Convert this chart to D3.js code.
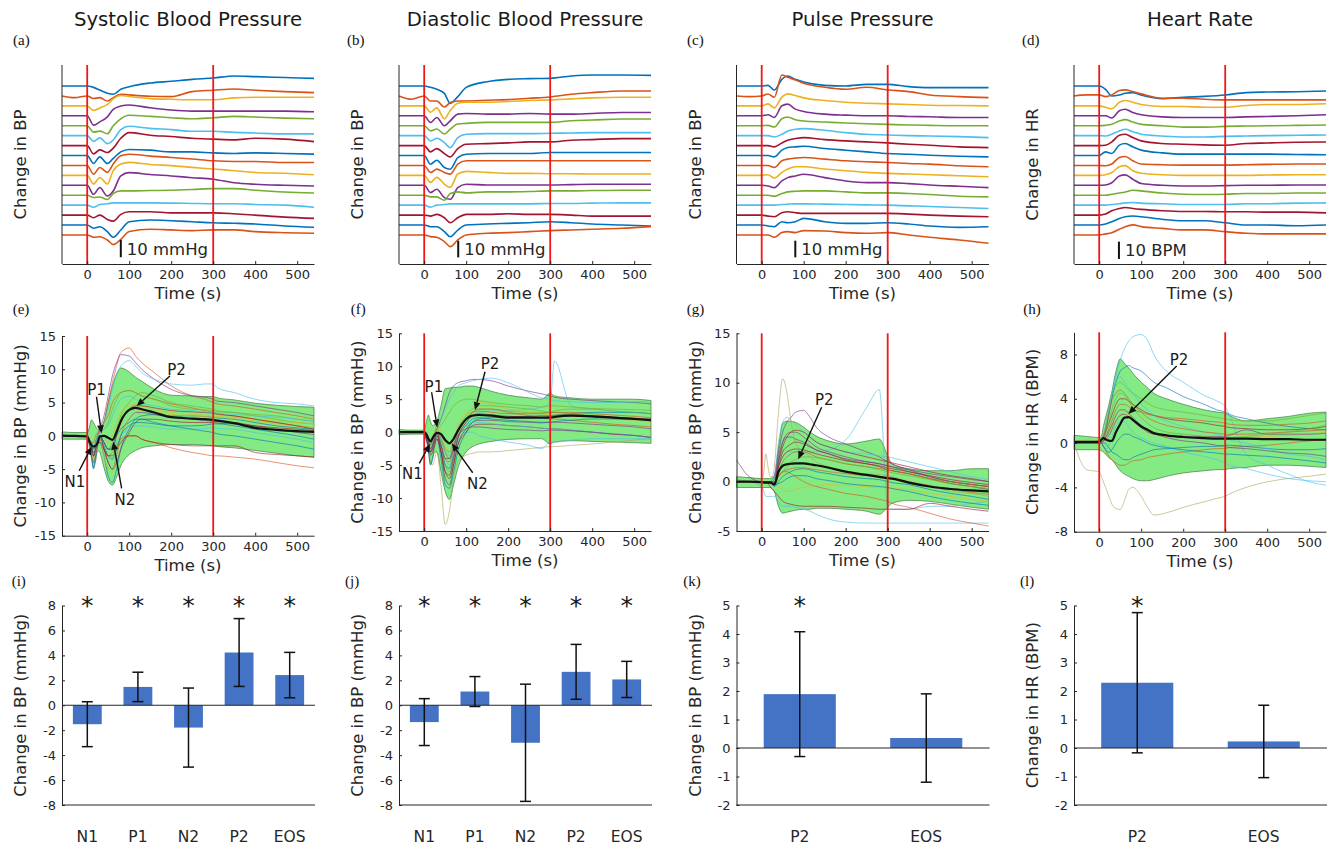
<!DOCTYPE html>
<html>
<head>
<meta charset="utf-8">
<script src="https://cdn.jsdelivr.net/npm/d3@7"></script>
<style>
  html, body { margin: 0; padding: 0; background: #fff; }
  svg { display: block; }
</style>
</head>
<body>
<svg id="fig" width="1329" height="850"></svg>
<script>
// ---------------------------------------------------------------
// Data
// ---------------------------------------------------------------

// Stimulus window (s) and time-axis ticks
const STIM_EDGES = [0, 300];
const TIME_TICKS = [0, 100, 200, 300, 400, 500];

// Row 1: per-subject averaged responses, sampled at these times (s)
const T_TOP = [-60, -30, 0, 15, 30, 48, 62, 80, 100, 150, 200, 250, 300, 350, 400, 470, 540];

const sbpTraces = [
  [0,0,0,-0.8,-2.3,-4.2,-4.8,-1.9,-0.4,1.7,2.7,3.8,4.6,5.8,5.4,4.9,4.4],
  [0,-1.0,0,-1.5,-1.0,-2.9,-1.0,1.0,0.6,-0.2,-0.4,2.5,3.3,4.0,3.3,2.5,1.9],
  [0,0,0,-2.7,-1.2,0.8,4.0,6.0,5.4,4.2,3.8,3.5,3.5,4.6,5.0,5.0,5.0],
  [0,0,0,-5.4,-3.5,-0.6,3.7,5.6,6.2,4.6,3.3,2.7,2.7,2.7,2.7,2.7,2.3],
  [0,0,0,-3.7,-3.1,-4.6,0,4.0,6.0,5.4,4.6,4.0,4.6,5.4,5.0,4.4,4.0],
  [0,0,0,-3.3,-1.3,-4.6,-2.5,3.5,5.4,4.2,3.5,2.5,2.5,1.9,1.5,1.0,1.0],
  [0,0,0,-4.8,-2.5,-4.0,-1.5,4.2,7.5,6.0,5.2,4.2,3.7,3.3,4.2,3.7,2.3],
  [0,0,0,-4.6,-0.8,-4.6,-1.7,2.1,3.5,3.1,2.1,2.1,1.5,1.2,1.5,1.2,0.8],
  [0,0,0,-5.0,-1.2,-4.0,0.8,5.6,6.5,5.4,4.6,3.7,2.7,2.3,2.3,1.7,1.7],
  [0,0,0,-5.0,-1.2,-5.0,2.7,6.5,7.5,6.3,5.6,4.6,3.7,2.7,1.7,1.2,0.4],
  [0,0,0,-5.2,-1.3,-6.2,-3.3,5.4,7.3,6.2,5.4,4.4,3.5,1.5,0.6,0,-0.4],
  [0,0,0,-1.3,-1.0,-2.5,1.0,2.5,2.5,2.7,2.9,3.3,3.8,3.8,2.9,1.9,1.3],
  [0,0,0,-1.2,0.4,0.8,1.3,1.3,1.3,1.3,1.2,1.0,0.8,0.8,0.4,0,-1.2],
  [0,0,0,-1.5,0,-2.5,-3.5,0.4,1.9,1.9,1.3,1.3,1.3,0.8,0,-1.2,-1.9],
  [0,0,0,-1.9,-1.0,-3.8,-7.1,-2.9,1.9,2.9,2.5,1.9,1.3,1.0,0.6,-0.6,-1.3],
  [0,0,0,-1.3,-1.0,-2.9,-5.5,-2.5,2.0,3.3,2.9,2.5,2.9,2.9,1.9,1.3,1.0]
];

const dbpTraces = [
  [0,0,0,-0.8,-2,-4.4,-10.4,-6.4,-0.8,2.6,4,4.4,4.6,6,6.6,6.6,6.4],
  [0,-2,0,-3,-3,-6.6,-4,-3,-3,-2.6,-2.2,-1.4,-0.6,1,2,3,3],
  [0,0,0,-3.8,-1.2,-7.8,-2.8,1.6,2.2,2.2,2.6,3.2,3.6,4.2,4.8,5.2,5.2],
  [0,0,0,-4,-1,-6,-3,1,1.4,1,1,1.4,1,1,1.4,2,2],
  [0,0,0,-3,-2,-5,-2,1,1.4,2,2,2,2,3,3.4,4,4],
  [0,0,0,-3.2,-1.6,-4.2,-7.2,-1.2,0.8,1.2,1.2,1.2,1.4,1.6,1.8,1.8,1.8],
  [0,0,0,-3.8,-1.8,-4.8,-6.8,-1.8,0.8,1.2,1.6,2.2,2.2,3.2,3.6,4.2,4.2],
  [0,0,0,-5.2,-2.8,-7.2,-8.2,-1.2,0.8,1.2,1.2,1.2,1.8,1.8,1.8,1.8,1.8],
  [0,0,0,-4.2,-2.2,-4.2,-5.2,0.8,2.8,2.8,2.8,2.8,2.8,2.8,2.8,2.8,2.8],
  [0,0,0,-4.2,-1.2,-5.2,-7.2,0.8,2.4,1.8,1.2,1.2,1,1,0.8,0.8,0.8],
  [0,0,0,-4.4,-2.4,-7.4,-8.4,-1.4,0.6,0.2,0.2,0.2,0.2,0.4,0.6,0.6,0.6],
  [0,0,0,-1,-1,-3,1,2,1.4,2,2,2.2,2.6,2.6,2.8,3,3],
  [0,0,0,-1.2,0,0.4,0.8,0.8,0.8,0.8,0.8,0.8,1,1,1.2,1.4,1.4],
  [0,0,0,-0.6,0.4,-1.6,-4.6,-1.6,0.4,0.4,0.8,0.4,0.4,0,-0.6,-0.6,-0.6],
  [0,0,0,-1,-1,-4,-7,-3,0,0.6,1,1.4,2,1.4,0.6,0,-0.6],
  [0,0,0,-1,-1.4,-4,-7,-3,0,1,1.4,2,2.6,3,3.4,4,5]
];

const ppTraces = [
  [0,0,0,0.4,-2.4,4,6,4,2.4,0.4,0,1,1,-0.4,-1,-1,-1],
  [0,-0.4,0,1.2,-0.8,12.6,11.2,9.6,7.6,5.2,4,5.2,3.6,2.6,0.6,-0.4,-1],
  [0,0,0,1.2,-1.2,5.2,7.2,6.2,4.8,3.2,2.2,1.6,1.2,0.8,0.4,0.2,0],
  [0,0,0,0.6,-1,6,7,4,2.6,1,0.4,0,0,-0.4,-0.6,-1,-1],
  [0,0,0,0.2,-0.8,4.2,5.2,3.6,2.8,2.2,1.6,1.2,0.8,0.4,0.2,0,0],
  [0,0,0,0,-0.8,0.8,2.8,3.8,4.2,3.2,1.8,0.8,0.4,0,-0.2,-0.6,-1.2],
  [0,0,0,0,-0.8,1.6,3.2,4.2,4.8,3.6,2.8,2.2,1.6,0.8,0.2,-0.8,-1.2],
  [0,0,0,0,-0.8,3.2,4.8,5.2,5.6,4.2,3.2,2.2,1.2,0.8,0.2,-0.4,-0.8],
  [0,0,0,0,-1.2,2.8,3.8,4.4,4.8,3.8,2.8,2.2,1.8,1.2,0.8,-0.2,-0.8],
  [0,0,0,0.4,-1.6,1.8,3.8,5.2,5.2,3.8,2.8,1.8,1.2,0.8,0.4,-0.2,-0.8],
  [0,0,0,-0.4,-1.4,2.6,4.6,5.6,6.6,4.6,2.6,1.6,1.6,1,0.2,-0.6,-1.4],
  [0,0,0,0,-0.6,1,2,2.4,2.6,2.6,2,1.4,1.4,1,0.4,-0.6,-1],
  [0,0,0,0,0,0.4,0.6,0.8,0.8,0.6,0.4,0.2,0,-0.4,-0.8,-1.4,-2],
  [0,0,0,-0.6,-1,1.4,2,1.4,1,1,1,1,1,0.6,0,-0.6,-1],
  [0,0,0,-0.6,-1,2,1.4,2,4,2,1,1,1.4,0.6,-0.6,-1.4,-1],
  [0,0,0,0,-1.4,1.4,2,1.4,2.6,2.4,1.4,1,1.4,0,-1.4,-3,-5]
];

const hrTraces = [
  [0,0,0,-1.9,-5.8,-5.2,-4.2,-3.8,-5.2,-7.3,-6.5,-6,-5.2,-3.8,-3.5,-3.3,-2.9],
  [0,0.6,0.6,-0.4,0.6,3.1,3.5,2.5,1.2,-1.3,-1.3,-1.9,-2.3,-2.3,-2.3,-2.3,-2.3],
  [0,0,0,-0.8,-1.7,2.1,3.1,2.1,0.8,-0.4,-0.4,-0.8,-0.8,0.2,0.8,0.8,1.2],
  [0,0,0,0,-1.3,2.9,3.8,1.9,0.6,-0.6,-1,-1,-1,-0.6,-0.4,0,0.6],
  [0,0,0,0.2,0.8,2.7,3.5,2.1,0.8,0,-0.8,-0.8,-0.4,-0.2,0,0.2,0.4],
  [0,0,0,-0.2,0.8,2.7,3.7,2.3,0.8,-0.2,-0.8,-0.8,-0.4,-0.2,0,0.2,0.4],
  [0,0,0,0.2,2.1,6,6.5,4.6,2.7,1.2,0.8,0.4,0.2,1.2,1.5,1.9,2.1],
  [0,0,0,2.1,1.2,6,6.9,5,3.1,1.5,0.8,0.8,0.8,0.8,0.8,0.6,0.4],
  [0,0,0,-0.2,0.8,4.6,5.2,2.7,0.8,0.4,0.2,0.2,0.2,0.4,0.6,0.8,0.8],
  [0,0,0,0.4,1.7,5,5.6,2.7,1.2,0.4,0,0,0,0,0.2,0.4,0.4],
  [0,0,0,0.2,1.5,5.4,6,3.5,1,0,-0.4,-0.4,-0.2,0,0,0.2,0.2],
  [0,0,0,0,0.6,1.3,1.9,2.9,2.5,1.3,0.6,0.4,0.6,1,1,1.3,1.3],
  [0,0,0,0,0.4,0.8,1.3,1.5,1.2,0.8,0.4,0.4,0.4,0.8,0.8,1.2,1.3],
  [0,0,0,0.6,2.5,3.8,4.4,3.8,3.3,2.5,2.1,2.1,1.9,1.9,1.7,1.7,1.3],
  [0,0,0,0.6,1.9,3.8,4.8,5.2,4.8,3.3,2.5,2.5,1.3,0,0,-0.4,0],
  [0,0,0,0.6,1.3,3.3,4.8,5.8,4.8,3.8,2.9,2.9,1.9,1,0.6,0.6,0.6]
];

// Row 2: all recordings, their spread band and the grand mean, sampled at these times (s)
const T_MID = [-60,-30,0,5,10,15,20,25,30,40,50,60,70,80,100,115,130,160,200,250,280,300,310,350,400,450,500,540];

const sbpUpper = [0.6,0.5,0.5,1.2,2.4,2.0,1.4,1.0,1.0,2.2,5.0,7.5,9.3,10.2,9.6,8.8,8.2,7.0,6.1,6.0,5.9,5.9,5.7,5.4,4.9,4.6,4.4,4.3];
const sbpLower = [-0.5,-0.5,-0.5,-1.5,-3.2,-4.8,-3.8,-2.2,-2.5,-4.8,-6.8,-7.4,-6.2,-4.5,-2.8,-2.2,-1.8,-1.5,-1.3,-1.3,-1.4,-1.5,-1.6,-1.8,-2.2,-2.6,-3.0,-3.2];
const sbpMean  = [0,0,-0.1,-0.8,-1.4,-1.6,-1.5,-1.0,-0.1,0.0,-0.3,-0.6,0.6,2.2,3.9,4.2,4.0,3.5,2.8,2.6,2.5,2.4,2.3,1.9,1.2,0.9,0.7,0.6];
const sbpSubjects = [
  [0,0,0,-0.5,-1,-2,-1,0,1,2,5,8,10.5,12.5,13.2,12,11,9.5,7.5,6,5.5,5,4.8,4.5,4,3.5,3,2.5],
  [0.2,0,0,-0.5,-1.5,-3,-2,0,1,3,6,9,11,12.2,12,11,10,8.5,7,6,5.8,5.5,5.2,5,4.5,4,3.5,3],
  [0,0,0,-1,-2,-3,-2,-1,0,2,4,7,9,10.5,11.3,10.5,9.5,8.5,7.8,7.6,7.8,7.8,7.2,6.5,5.5,5,4.8,4.5],
  [0,0,0,-1,-2,-3,-2,-1,-1,-2,-3,-2.5,-1.5,-0.5,0,0,-0.5,-1,-1.8,-2.5,-2.8,-3,-3,-3.2,-3.5,-4,-4.5,-4.8],
  [0,0,0,-1,-2,-3,-2,-1,-1,-2,-3,-3,-2,-1,0,0,-0.5,-1,-1.3,-1.5,-1.5,-1.5,-1.5,-1.5,-2.5,-2.8,-3,-3.2],
  [0,0,0,-1,-3,-5,-3,-1,-1,-3,-6,-7,-5,-2,1,2.5,3,3.2,3,3,2.9,2.8,2.7,2.5,2,1.5,1.2,1],
  [0,0,0,-1,-2,-2,-1,0,0,-1,-2,-1,1,3,5,6,6.5,6,5,4.5,4.2,4,3.8,3.5,3,2.5,2,1.8],
  [0,0,0,-0.5,-1,-1,0,0.5,1,2,3,5,6,6.5,6.8,6.5,6,5.5,4.8,4.2,3.8,3.5,3.2,3,2.5,2,1.5,1.2],
  [0,0,0,-1,-2.5,-4,-3,-1,0,-2,-4,-5,-3,0,2.5,3.5,3.5,3.2,2.8,2.5,2.3,2.2,2.1,2,1.5,1,0.5,0.2],
  [0,0,0,-0.5,-1,-1.5,-1,0,0.5,0,-1,0,2,3.5,4.5,4.8,4.5,4,3.5,3.2,3.1,3,2.9,2.8,2.5,2.2,2,1.8],
  [0,0,0,-0.5,-1,-2,-1.5,-0.5,0,-1,-2,-2,-1,0,1,1.5,1.5,1.3,1,1,1.1,1.2,1.1,1,0.5,0,-0.5,-1],
  [0,0,0,-1,-2,-3,-2.5,-1.5,-0.5,-2,-4,-5,-4,-2,0.5,2,2.5,2.5,2.2,2,2,2,1.9,1.8,1.5,1.2,1,0.8],
  [0,0,0,-0.5,-1,-1.5,-1,0,0.5,1,2,4,5.5,6.5,6.8,6.5,6,5.5,4.5,4,3.9,3.8,3.6,3.5,3.2,3,2.5,2.2],
  [0,0,0,-0.5,-1,-2,-1,0,0,-1,-2,-1.5,0,1,2,2.5,2.5,2,1.5,1,0.7,0.5,0.3,0,-0.5,-1,-1.5,-2],
  [0,0,0,-1,-2,-3.5,-2.5,-1,-0.5,-3,-5,-5.5,-3,0,2.5,3.5,3.8,3.6,3.2,3,2.9,2.8,2.8,2.6,2.2,1.8,1.5,1.2],
  [0,0,0,-0.5,-1.5,-2.5,-2,-1,0,-1,-2,-2,0,2,4,4.5,4.5,4.2,3.8,3.6,3.5,3.4,3.3,3,2.5,2,1.5,1],
  [0,0,0,-1,-2,-3,-2,-1,0,-1.5,-3,-3.5,-2,0,1.5,2,2,1.8,1.5,1.5,1.6,1.8,1.8,1.5,1,0.5,0,-0.5],
  [0,0,0,-0.5,-1,-1.5,-1,0,0.5,1,1.5,3,4.5,5.5,6,5.5,5,4.5,4,3.8,3.6,3.5,3.4,3.2,3,2.8,2.5,2.2]
];

const dbpUpper = [0.4,0.3,0.3,1.5,2.6,1.6,1.0,1.2,1.6,4.0,6.6,6.7,6.8,6.8,7.0,7.0,6.8,6.2,5.6,5.2,5.0,5.9,5.5,5.2,5.0,5.0,5.0,4.8];
const dbpLower = [-0.4,-0.3,-0.3,-1.2,-2.5,-4.9,-4.0,-3.0,-3.0,-6.0,-9.0,-10.2,-8.0,-5.5,-3.0,-2.2,-1.8,-1.4,-1.1,-1.0,-1.0,-1.8,-1.5,-1.3,-1.4,-1.5,-1.6,-1.7];
const dbpMean  = [0,0,0,-0.3,-1.0,-1.4,-0.9,-0.4,-0.1,-0.3,-1.2,-1.7,-1.0,0.2,2.0,2.5,2.6,2.5,2.2,2.2,2.2,2.2,2.3,2.5,2.4,2.2,2.0,1.8];
const dbpSubjects = [
  [0,0,0,-0.5,-1.5,-3,-2,-1,0,-1,-3,-4,-2,0,1.5,2.5,3,3.2,3.3,3.5,3.8,4.5,10.8,4,3.5,3.2,3,2.8],
  [0,0,0,-0.5,-1,-2,-1,0,0.5,2,4,6,7,7.5,7.8,8,8,7.8,7,6.2,5.8,5.5,5.3,5,4.8,4.6,4.5,4.3],
  [0,0,0,-0.5,-1,-1.5,-1,0,1,2,3.5,5,6,7,7.5,7.8,8,8.2,7.5,6,5.2,5,4.8,4.6,4.5,4.5,4.6,4.7],
  [0,0,0,-1,-2,-4,-5,-4,-3,-8,-14,-12,-7,-4.5,-3.5,-3.2,-3,-3,-2.8,-2.5,-2.3,-2.2,-2.2,-2,-1.8,-1.5,-1.2,-1],
  [0,0,0,-0.5,-2,-3,-2,-1,-0.5,-2,-4,-5,-3,-1,0,0,-0.5,-1,-1.5,-2,-2.5,-1.5,-1.5,-1.2,-1,-1,-1,-1],
  [0,0,0,-1,-3,-5,-4,-2,-1,-4,-8,-8.5,-6,-3,0,1.5,2,2.2,2.3,2.4,2.5,2.5,2.6,2.8,3,3,3,2.8],
  [0,0,0,-0.5,-1.5,-2.5,-2,-1,0,-2,-5,-6,-4,-1,1.5,3,3.5,3.5,3.2,3,3,3,3.2,3.5,3.5,3.2,3,2.8],
  [0,0,0,-0.5,-1,-2,-1.5,-0.5,0.5,-1,-3,-4,-2,0,2,3,3.5,3.5,3,2.5,2.2,2,2,1.8,1.5,1.2,1,0.8],
  [0,0,0,-1,-2,-3,-2.5,-1,0,-3,-7,-8,-5,-2,0.5,1.5,1.8,1.8,1.6,1.5,1.4,1.5,1.5,1.4,1.2,1,0.8,0.5],
  [0,0,0,-0.5,-1,-1.5,-1,0,1,0,-2,-3,-1,1,3,4,4.5,4.2,3.5,3,2.8,2.6,2.6,2.5,2.3,2,1.8,1.5],
  [0,0,0,-1,-2,-3.5,-3,-2,-1,-3,-6,-7,-5,-2,0,1,1.2,1.2,1,0.8,0.6,0.5,0.5,0.3,0,-0.3,-0.5,-0.8],
  [0,0,0,-0.5,-1,-2,-1,-0.5,0,-1,-2.5,-3,-1.5,0.5,2.5,3.5,4,4,3.8,3.5,3.2,3,3,2.8,2.5,2.2,2,1.8],
  [0,0,0,-0.5,-1,-2,-1.5,-0.5,0,-1.5,-3,-3.5,-2,0,1,1.5,1.5,1.3,1,0.8,0.6,0.5,0.5,0.3,0,-0.2,-0.5,-0.8],
  [0,0,0,-1,-2,-3,-2,-1,0,-2,-5,-5.5,-3.5,-1,1,2,2.2,2,1.8,1.6,1.5,1.5,1.6,1.8,2,2,2,2],
  [0,0,0,-0.5,-1.5,-2.5,-2,-1,0,-2,-4,-4.5,-2.5,0,2,3,3.2,3,2.8,2.8,2.8,3,3,3,2.8,2.6,2.4,2.2],
  [0,0,0,-1,-2,-3,-2.5,-1.5,-0.5,-3,-6,-6.5,-4,-1,1.5,2.5,2.8,2.6,2.4,2.3,2.2,2.4,2.5,2.6,2.5,2.3,2.1,2],
  [0,0,0,-0.5,-1,-2,-1.5,-0.5,0.5,1,2,3,4,4.5,5,5,4.8,4.5,4.2,4,3.8,4,4,3.8,3.6,3.5,3.4,3.3],
  [0,0,0,-0.5,-1.5,-2.5,-2,-1,-0.5,-2,-4,-4,-2.5,-0.5,0.5,0.8,0.8,0.6,0.4,0.3,0.2,0.3,0.3,0.2,0,-0.3,-0.5,-0.8]
];

const ppUpper = [0.5,0.4,0.3,0.3,0.3,0.3,0.3,0.4,0.6,3.5,5.9,6.1,6.1,6.0,5.5,5.0,4.6,4.1,3.8,4.1,4.3,2.6,1.8,1.3,1.1,1.1,1.3,1.3];
const ppLower = [-0.6,-0.6,-0.6,-0.6,-0.6,-0.6,-0.6,-0.7,-1.0,-2.5,-3.2,-3.1,-3.0,-2.9,-2.8,-2.8,-2.7,-2.7,-2.8,-3.0,-3.3,-2.6,-2.2,-1.9,-2.0,-2.3,-2.6,-2.8];
const ppMean  = [0,0,-0.05,-0.1,-0.1,-0.1,-0.1,-0.2,-0.3,1.0,1.6,1.75,1.8,1.85,1.85,1.75,1.65,1.4,1.0,0.67,0.48,0.34,0.3,-0.1,-0.5,-0.75,-0.9,-1.0];
const ppSubjects = [
  [0.3,0,0,1,2.8,1.5,0.5,0.5,1.5,7,10.4,9,6,4,3,2.5,2,1.5,1,0.8,0.7,0.6,0.5,0,-0.5,-1,-1.2,-1.5],
  [0,0,0,0,0,0,0,0.2,0.5,1.5,2.5,3,3,3,3,3,3,3.2,4.2,7.5,9.3,-2.5,-2.8,-2.8,-2.5,-2.5,-2.2,-2],
  [0,0,-0.5,-1,-1.5,-1.5,-1.5,-1.5,-1.5,-2,-2.5,-2.5,-2.5,-2.6,-2.8,-3,-3.3,-3.8,-4.1,-4.2,-4.2,-4.2,-4.2,-4.2,-4.2,-4.2,-4.2,-4.2],
  [0,0,0,0,0,0,0,0,0,0.5,1,1,0.8,0.5,0,-0.3,-0.5,-0.8,-1.2,-1.5,-1.8,-2,-2.2,-2.6,-3.2,-3.8,-4.2,-4.5],
  [0,0,0,0,0,-0.2,-0.5,-0.8,-1,-1.5,-2,-2.2,-2.3,-2.4,-2.5,-2.5,-2.5,-2.5,-2.6,-2.7,-2.8,-2.8,-2.8,-2.8,-2.2,-2.5,-2.8,-3.0],
  [0,0,0,0,0,0,0,0.2,0.5,3,5,6,6.5,7,7.2,6.5,5.5,4.5,3.8,3,2.5,2,1.8,1.2,0.5,0,-0.3,-0.5],
  [0,0,0,0,0,0,0,0.2,0.5,4,6,6.5,6.2,5.8,5,4.5,4,3.5,3,2.8,2.6,2.5,2.4,2,1.5,1,0.5,0.2],
  [2.2,0.5,0,0,0,0,0,0,0.2,2,4,4.8,5,5,4.5,4,3.5,3,2.5,2,1.8,1.6,1.5,1,0.5,0,-0.3,-0.5],
  [0,0,0,0,0,0,-0.1,-0.2,-0.3,1.5,3,3.5,3.8,4,3.8,3.5,3.2,2.8,2.2,1.8,1.5,1.2,1.1,0.8,0.3,-0.2,-0.5,-0.8],
  [0,0,0,0,0,0,0,-0.2,-0.5,0,0.5,0.8,1,1.2,1.3,1.2,1,0.8,0.5,0.3,0.2,0,-0.1,-0.3,-0.8,-1.2,-1.5,-1.8],
  [0,0,0,0,0,0,0,-0.1,-0.3,1,2,2.5,2.8,3,3,2.8,2.5,2.2,1.8,1.5,1.3,1.2,1.1,0.8,0.3,0,-0.3,-0.5],
  [0,0,0,0,0,0,0,-0.1,-0.3,-0.5,-0.8,-1,-1,-0.8,-0.6,-0.5,-0.4,-0.3,-0.4,-0.5,-0.6,-0.6,-0.7,-0.8,-1.2,-1.5,-1.8,-2],
  [0,0,0,0,0,0,0,0,-0.2,0.5,1,1.5,2,2.2,2.5,2.5,2.4,2.2,1.8,1.5,1.2,1,0.9,0.6,0.2,-0.2,-0.5,-0.7],
  [0,0,0,0,0,0,0,0,-0.2,2,3.5,4.5,5,5.2,5,4.5,4,3.5,3,2.5,2.2,2,1.9,1.5,1,0.6,0.3,0],
  [0,0,0,0,0,0,0,-0.1,-0.3,2.5,4,4.5,4.5,4.3,4,3.6,3.2,2.8,2.3,2,1.8,1.6,1.5,1.2,0.8,0.5,0.2,0],
  [0,0,0,0,0,0,0,-0.1,-0.3,0.5,1,1.2,1.3,1.4,1.4,1.3,1.2,1,0.8,0.6,0.5,0.4,0.3,0,-0.4,-0.8,-1.1,-1.3],
  [0,0,0,0,0,0,0,-0.1,-0.3,-0.2,0,0.3,0.5,0.6,0.6,0.5,0.3,0.1,-0.2,-0.4,-0.5,-0.6,-0.7,-1,-1.5,-1.9,-2.2,-2.4],
  [0,0,0,0,0,0,0,0,-0.2,1.5,2.5,3,3.2,3.3,3.2,3,2.8,2.5,2.1,1.8,1.6,1.4,1.3,1,0.6,0.2,-0.1,-0.3]
];

const hrUpper = [0.7,0.6,0.5,0.6,1.5,2.3,3.0,3.8,4.6,6.5,7.6,7.2,6.8,6.3,5.5,5.0,4.5,4.0,3.5,3.0,2.8,2.7,2.5,2.0,2.2,2.4,2.7,2.8];
const hrLower = [-0.6,-0.6,-0.6,-0.7,-0.8,-1.0,-1.2,-1.4,-1.5,-2.0,-2.5,-2.8,-3.0,-3.2,-3.4,-3.4,-3.3,-3.0,-2.7,-2.5,-2.4,-2.4,-2.3,-2.2,-2.0,-2.0,-2.1,-2.2];
const hrMean  = [0.1,0.1,0.1,0.3,0.45,0.35,0.25,0.2,0.2,1.0,1.7,2.3,2.35,2.1,1.5,1.2,0.9,0.7,0.55,0.45,0.4,0.4,0.4,0.4,0.35,0.35,0.3,0.3];
const hrSubjects = [
  [0,0,0,0,0.5,1,2,3,4,6,7.5,8.5,9.2,9.6,9.8,9.3,8,6.5,5.5,4.3,3.8,3.3,2.5,-1,-2,-2.8,-3.5,-3.8],
  [0,-2.4,-2.6,-3,-3.5,-4,-4.5,-5,-5.5,-5.9,-6,-5.2,-4.2,-4.0,-4.8,-5.8,-6.5,-6.3,-5.8,-5.3,-5,-4.8,-4.6,-4,-3.5,-3.2,-3,-2.8],
  [0,0,0,0.2,0.5,1,2,3,4,5.5,6.5,6.8,7,6.8,6.5,6,5.5,5,4.2,3.5,3,2.8,2.6,2.2,1.8,1.5,1.3,1.2],
  [0,0,0,0,-0.2,-0.5,-0.5,0,0.5,1.5,2,2,1.5,1,0.5,0.2,0,-0.3,-0.8,-1.2,-1.5,-1.8,-2,-2.3,-2.8,-3.2,-3.4,-3.5],
  [0,0,0.2,0,-0.3,-0.6,-1,-1.3,-1.5,-1.8,-2,-2,-1.8,-1.6,-1.5,-1.3,-1.2,-1,-0.8,-0.6,-0.5,-0.5,-0.4,-0.3,-0.2,0,0.2,0.3],
  [0,0,0,0.3,0.8,1.5,2.5,3.5,4.5,5.2,5.5,5.2,4.8,4.5,4,3.6,3.3,3,2.8,2.5,2.3,2.2,2.1,2,2,2.2,2.5,2.7],
  [0,0,0,0.2,0.5,1,1.5,2,2.5,3.5,4,4,3.8,3.5,3,2.7,2.5,2.2,2,1.8,1.6,1.5,1.4,1.3,1.2,1.2,1.3,1.5],
  [0,0.3,0.1,0,0.2,0.5,0.8,1,1.5,2,2.5,2.8,2.6,2.2,1.5,1,0.8,0.6,0.5,0.5,0.4,0.4,0.4,0.5,0.6,0.7,0.8,1],
  [0,0,0,0.1,0.2,0.3,0.5,0.8,1.2,2,2.5,2.6,2.4,2,1.4,1,0.8,0.7,0.6,0.6,0.6,0.6,0.7,1.2,0.8,0.8,0.8,0.9],
  [0,0,0,0,0,0,-0.3,-0.5,-0.8,-1,-1.3,-1.5,-1.5,-1.3,-1,-0.8,-0.6,-0.5,-0.4,-0.3,-0.3,-0.2,-0.2,-0.3,-0.5,-0.6,-0.6,-0.5],
  [0,0,0,0.2,0.5,1.5,2.5,3.5,4.5,5.5,6,5.5,5,4.5,3.5,3,2.5,2,1.5,1,0.8,0.5,0.3,0,-0.5,-1,-1.2,-1.5],
  [0,0,0,0,0.2,0.5,1,1.5,2,3,3.5,3.5,3.3,3,2.8,2.6,2.5,2.3,2.2,2,1.9,1.8,1.7,1.6,1.6,1.7,1.8,2],
  [0,0,0,0.2,0.6,1.2,2,3,3.8,4.5,4.8,4.5,4,3.5,2.8,2.3,2,1.6,1.3,1,0.9,0.8,0.8,0.8,0.9,1,1.1,1.2],
  [0,0,0,0,0.2,0.5,0.8,1.2,1.6,2.5,3,3,2.7,2.3,1.6,1.2,0.9,0.5,0.2,0,-0.2,-0.3,-0.4,-0.5,-0.7,-0.9,-1,-1.2],
  [0,0,0,0.1,0.3,0.8,1.5,2.2,3,4,4.5,4.3,3.8,3.2,2.3,1.8,1.4,1,0.8,0.6,0.5,0.5,0.5,0.6,0.8,1,1.3,1.6],
  [0,0,0,0,-0.3,-0.6,-0.8,-0.8,-0.6,0,0.5,0.8,0.8,0.6,0.3,0,-0.2,-0.4,-0.6,-0.8,-0.9,-1,-1,-1.1,-1.2,-1.4,-1.6,-1.8]
];

// Marked phases on the grand mean: [label, time (s), value]
const sbpPhaseMarks = [["N1", 10.5, -1.63], ["P1", 34, 0.38], ["N2", 62, -0.88], ["P2", 117.6, 4.48]];
const dbpPhaseMarks = [["N1", 13.8, -1.8], ["P1", 31, 0.7], ["N2", 65.5, -1.7], ["P2", 121, 3.36]];
const ppPhaseMarks  = [["P2", 87, 2.26]];
const hrPhaseMarks  = [["P2", 69.3, 2.62]];

// Row 3: phase summaries (mean ± SD) and significance flags
const bpPhases   = ["N1", "P1", "N2", "P2", "EOS"];
const ppPhases   = ["P2", "EOS"];
const sbpPhaseMean = [-1.52, 1.47, -1.79, 4.23, 2.42];
const sbpPhaseSD   = [1.80, 1.18, 3.17, 2.72, 1.82];
const sbpPhaseSig  = [true, true, true, true, true];
const dbpPhaseMean = [-1.35, 1.10, -3.01, 2.68, 2.07];
const dbpPhaseSD   = [1.88, 1.20, 4.70, 2.20, 1.45];
const dbpPhaseSig  = [true, true, true, true, true];
const ppPhaseMean  = [1.89, 0.35];
const ppPhaseSD    = [2.19, 1.55];
const ppPhaseSig   = [true, false];
const hrPhaseMean  = [2.29, 0.23];
const hrPhaseSD    = [2.46, 1.27];
const hrPhaseSig   = [true, false];

// ---------------------------------------------------------------
// Styling and layout
// ---------------------------------------------------------------
const svg = d3.select("#fig");
const INK = "#262626";
const SANS = '"DejaVu Sans", Verdana, sans-serif';
const SERIF = '"Liberation Serif", "Times New Roman", serif';
const PALETTE = ["#0072BD", "#D95319", "#EDB120", "#7E2F8E", "#77AC30", "#4DBEEE", "#A2142F", "#a9a75a"];
const STIM_RED = "#f01818";
const BAR_BLUE = "#4472C4";
const BAND_FILL = "#84ea84";
const BAND_EDGE = "#3f7d3f";
const plainNum = d => (d < 0 ? "-" + Math.abs(d) : String(d));

const COL_X = [62, 399, 736.5, 1074];
const PLOT_W = 252;
const xTime = col => d3.scaleLinear().domain([-60, 540]).range([COL_X[col], COL_X[col] + PLOT_W]);

function styleAxis(sel) {
  sel.attr("font-family", SANS).attr("font-size", 13);
  sel.selectAll(".domain").attr("stroke", INK).attr("stroke-width", 1);
  sel.selectAll(".tick line").attr("stroke", INK);
  sel.selectAll(".tick text").attr("fill", INK);
}

function panelLetter(txt, x, y) {
  svg.append("text").attr("x", x).attr("y", y).attr("font-family", SERIF)
    .attr("font-size", 15).attr("fill", "#111").text(txt);
}

function yLabel(col, cy, txt) {
  svg.append("text")
    .attr("transform", `translate(${COL_X[col] - 41},${cy}) rotate(-90)`)
    .attr("text-anchor", "middle").attr("dy", "0.33em")
    .attr("font-family", SANS).attr("font-size", 16.5).attr("fill", INK).text(txt);
}

function timeLabel(col, bottom) {
  svg.append("text").attr("x", COL_X[col] + PLOT_W / 2).attr("y", bottom + 35)
    .attr("text-anchor", "middle").attr("font-family", SANS).attr("font-size", 16.5)
    .attr("fill", INK).text("Time (s)");
}

function stimLines(g, x, top, bottom) {
  g.selectAll(null).data(STIM_EDGES).join("line")
    .attr("x1", d => x(d)).attr("x2", d => x(d))
    .attr("y1", top).attr("y2", bottom)
    .attr("stroke", STIM_RED).attr("stroke-width", 1.8);
}

// ---------------------------------------------------------------
// Row 1: stacked subject traces
// ---------------------------------------------------------------
const TOP = { top: 65, bottom: 264, firstBase: 86, gap: 9.93 };
const topPanels = [
  { col: 0, title: "Systolic Blood Pressure", ylab: "Change in BP", traces: sbpTraces, ppu: 1.733, bar: { t: 80, base: -98.8, size: 10, label: "10 mmHg" } },
  { col: 1, title: "Diastolic Blood Pressure", ylab: "Change in BP", traces: dbpTraces, ppu: 1.667, bar: { t: 81, base: -102.8, size: 10, label: "10 mmHg" } },
  { col: 2, title: "Pulse Pressure", ylab: "Change in BP", traces: ppTraces, ppu: 1.667, bar: { t: 80, base: -102.8, size: 10, label: "10 mmHg" } },
  { col: 3, title: "Heart Rate", ylab: "Change in HR", traces: hrTraces, ppu: 1.733, bar: { t: 47, base: -99.8, size: 10, label: "10 BPM" } }
];

topPanels.forEach(p => {
  const g = svg.append("g");
  const x = xTime(p.col);
  const y = d3.scaleLinear()
    .domain([-(TOP.bottom - TOP.firstBase) / p.ppu, (TOP.firstBase - TOP.top) / p.ppu])
    .range([TOP.bottom, TOP.top]);
  const stepU = TOP.gap / p.ppu;

  p.traces.forEach((tr, k) => {
    const line = d3.line()
      .x((v, j) => x(T_TOP[j]))
      .y(v => y(v - k * stepU))
      .curve(d3.curveMonotoneX);
    g.append("path").attr("d", line(tr)).attr("fill", "none")
      .attr("stroke", PALETTE[k % 7]).attr("stroke-width", 1.6)
      .attr("stroke-linejoin", "round");
  });

  stimLines(g, x, TOP.top, TOP.bottom);

  // scale bar
  const b = p.bar;
  g.append("line").attr("x1", x(b.t)).attr("x2", x(b.t))
    .attr("y1", y(b.base)).attr("y2", y(b.base + b.size))
    .attr("stroke", "#111").attr("stroke-width", 2);
  g.append("text").attr("x", x(b.t) + 6).attr("y", (y(b.base) + y(b.base + b.size)) / 2 + 6)
    .attr("font-family", SANS).attr("font-size", 16.5).attr("fill", INK).text(b.label);

  // axes
  g.append("line").attr("x1", COL_X[p.col]).attr("x2", COL_X[p.col])
    .attr("y1", TOP.top).attr("y2", TOP.bottom).attr("stroke", INK).attr("stroke-width", 1);
  g.append("g").attr("transform", `translate(0,${TOP.bottom})`)
    .call(d3.axisBottom(x).tickValues(TIME_TICKS).tickFormat(plainNum).tickSizeInner(-3).tickSizeOuter(0).tickPadding(6))
    .call(styleAxis);

  svg.append("text").attr("x", COL_X[p.col] + PLOT_W / 2).attr("y", 26)
    .attr("text-anchor", "middle").attr("font-family", SANS).attr("font-size", 19.7)
    .attr("fill", "#1a1a1a").text(p.title);
  yLabel(p.col, 164.5, p.ylab);
  timeLabel(p.col, TOP.bottom);
});
[["(a)", 13], ["(b)", 347], ["(c)", 687], ["(d)", 1022]].forEach(([t, x]) => panelLetter(t, x, 45));

// ---------------------------------------------------------------
// Row 2: all recordings with spread band and grand mean
// ---------------------------------------------------------------
const midPanels = [
  { col: 0, top: 336, bottom: 535.7, domain: [-15, 15], ticks: [-15, -10, -5, 0, 5, 10, 15], ylab: "Change in BP (mmHg)",
    upper: sbpUpper, lower: sbpLower, mean: sbpMean, subjects: sbpSubjects, marks: sbpPhaseMarks,
    colors: [1, 3, 5, 1, 6, 0, 4, 1, 3, 2, 5, 6, 4, 0, 2, 6, 0, 5],
    offsets: { N1: [[-12.4, 24], [-16.7, 35]], P1: [[-5, -36.6], [-5, -43.3]], N2: [[8.4, 46.6], [11.7, 58.3]], P2: [[33.3, -30], [40, -36]] } },
  { col: 1, top: 333.3, bottom: 531, domain: [-15, 15], ticks: [-15, -10, -5, 0, 5, 10, 15], ylab: "Change in BP (mmHg)",
    upper: dbpUpper, lower: dbpLower, mean: dbpMean, subjects: dbpSubjects, marks: dbpPhaseMarks,
    colors: [5, 3, 5, 7, 5, 0, 4, 1, 3, 2, 6, 4, 5, 0, 1, 6, 4, 3],
    offsets: { N1: [[-10.7, 19.3], [-17.7, 30]], P1: [[-5.6, -35.3], [-3.3, -41]], N2: [[21, 29.4], [25.6, 40.7]], P2: [[10, -38.3], [15, -46.7]] } },
  { col: 2, top: 333.3, bottom: 531, domain: [-5, 15], ticks: [-5, 0, 5, 10, 15], ylab: "Change in BP (mmHg)",
    upper: ppUpper, lower: ppLower, mean: ppMean, subjects: ppSubjects, marks: ppPhaseMarks,
    colors: [7, 5, 5, 1, 6, 3, 5, 3, 6, 0, 1, 2, 4, 6, 3, 1, 0, 6],
    offsets: { P2: [[23.4, -52], [26, -59.3]] } },
  { col: 3, top: 332.3, bottom: 531.7, domain: [-8, 10], ticks: [-8, -4, 0, 4, 8], ylab: "Change in HR (BPM)",
    upper: hrUpper, lower: hrLower, mean: hrMean, subjects: hrSubjects, marks: hrPhaseMarks,
    colors: [5, 7, 0, 5, 1, 4, 6, 2, 3, 0, 5, 1, 1, 3, 4, 0],
    offsets: { P2: [[48.4, -48], [50.7, -54.7]] } }
];

midPanels.forEach(p => {
  const g = svg.append("g");
  const x = xTime(p.col);
  const y = d3.scaleLinear().domain(p.domain).range([p.bottom, p.top]);
  const idx = d3.range(T_MID.length);

  const band = d3.area()
    .x(j => x(T_MID[j]))
    .y0(j => y(p.lower[j]))
    .y1(j => y(p.upper[j]))
    .curve(d3.curveMonotoneX);
  g.append("path").attr("d", band(idx)).attr("fill", BAND_FILL)
    .attr("stroke", BAND_EDGE).attr("stroke-width", 0.7);

  p.subjects.forEach((s, k) => {
    const line = d3.line().x((v, j) => x(T_MID[j])).y(v => y(v)).curve(d3.curveMonotoneX);
    g.append("path").attr("d", line(s)).attr("fill", "none")
      .attr("stroke", PALETTE[p.colors[k % p.colors.length]])
      .attr("stroke-opacity", 0.65).attr("stroke-width", 0.95);
  });

  const meanLine = d3.line().x((v, j) => x(T_MID[j])).y(v => y(v)).curve(d3.curveMonotoneX);
  g.append("path").attr("d", meanLine(p.mean)).attr("fill", "none")
    .attr("stroke", "#111").attr("stroke-width", 2.2);

  stimLines(g, x, p.top, p.bottom);

  g.append("g").attr("transform", `translate(0,${p.bottom})`)
    .call(d3.axisBottom(x).tickValues(TIME_TICKS).tickFormat(plainNum).tickSizeInner(-3).tickSizeOuter(0).tickPadding(6))
    .call(styleAxis);
  g.append("g").attr("transform", `translate(${COL_X[p.col]},0)`)
    .call(d3.axisLeft(y).tickValues(p.ticks).tickFormat(plainNum).tickSizeInner(-3).tickSizeOuter(0).tickPadding(6))
    .call(styleAxis);

  // phase annotations: arrow ends on the mean at the marked point
  p.marks.forEach(([label, t, v]) => {
    const [tail, txt] = p.offsets[label];
    const tx = x(t), ty = y(v);
    const sx = tx + tail[0], sy = ty + tail[1];
    const ang = Math.atan2(ty - sy, tx - sx);
    const head = 8, half = 3.4;
    const bx = tx - head * Math.cos(ang), by = ty - head * Math.sin(ang);
    g.append("line").attr("x1", sx).attr("y1", sy).attr("x2", bx).attr("y2", by)
      .attr("stroke", "#111").attr("stroke-width", 1.4);
    g.append("path")
      .attr("d", `M${tx},${ty}L${bx - half * Math.sin(ang)},${by + half * Math.cos(ang)}L${bx + half * Math.sin(ang)},${by - half * Math.cos(ang)}Z`)
      .attr("fill", "#111");
    g.append("text").attr("x", tx + txt[0]).attr("y", ty + txt[1]).attr("dy", "0.36em")
      .attr("text-anchor", "middle").attr("font-family", SANS).attr("font-size", 15)
      .attr("fill", "#1a1a1a").text(label);
  });

  yLabel(p.col, (p.top + p.bottom) / 2, p.ylab);
  timeLabel(p.col, p.bottom);
});
[["(e)", 12.7], ["(f)", 350.7], ["(g)", 686.7], ["(h)", 1023.3]].forEach(([t, x]) => panelLetter(t, x, 314));

// ---------------------------------------------------------------
// Row 3: phase summaries
// ---------------------------------------------------------------
const BAR = { top: 605.5, bottom: 805, width: 253 };
const barPanels = [
  { col: 0, cats: bpPhases, mean: sbpPhaseMean, sd: sbpPhaseSD, sig: sbpPhaseSig, domain: [-8, 8], ticks: [-8, -6, -4, -2, 0, 2, 4, 6, 8], ylab: "Change in BP (mmHg)" },
  { col: 1, cats: bpPhases, mean: dbpPhaseMean, sd: dbpPhaseSD, sig: dbpPhaseSig, domain: [-8, 8], ticks: [-8, -6, -4, -2, 0, 2, 4, 6, 8], ylab: "Change in BP (mmHg)" },
  { col: 2, cats: ppPhases, mean: ppPhaseMean, sd: ppPhaseSD, sig: ppPhaseSig, domain: [-2, 5], ticks: [-2, -1, 0, 1, 2, 3, 4, 5], ylab: "Change in BP (mmHg)" },
  { col: 3, cats: ppPhases, mean: hrPhaseMean, sd: hrPhaseSD, sig: hrPhaseSig, domain: [-2, 5], ticks: [-2, -1, 0, 1, 2, 3, 4, 5], ylab: "Change in HR (BPM)" }
];

barPanels.forEach(p => {
  const g = svg.append("g");
  const left = COL_X[p.col];
  const xb = d3.scaleBand().domain(p.cats).range([left, left + BAR.width])
    .paddingInner(0.43).paddingOuter(0.215);
  const y = d3.scaleLinear().domain(p.domain).range([BAR.bottom, BAR.top]);
  const rows = p.cats.map((c, i) => ({ c, m: p.mean[i], sd: p.sd[i], sig: p.sig[i] }));

  g.selectAll(null).data(rows).join("rect")
    .attr("x", d => xb(d.c)).attr("width", xb.bandwidth())
    .attr("y", d => y(Math.max(0, d.m)))
    .attr("height", d => Math.abs(y(d.m) - y(0)))
    .attr("fill", BAR_BLUE);

  // zero line and lower frame line
  [0, p.domain[0]].forEach(v => {
    g.append("line").attr("x1", left).attr("x2", left + BAR.width)
      .attr("y1", y(v)).attr("y2", y(v)).attr("stroke", INK).attr("stroke-width", 1.1);
  });

  g.append("g").attr("transform", `translate(${left},0)`)
    .call(d3.axisLeft(y).tickValues(p.ticks).tickFormat(plainNum).tickSizeInner(-3).tickSizeOuter(0).tickPadding(6))
    .call(styleAxis);

  // error bars
  const cap = 5.5;
  rows.forEach(d => {
    const cx = xb(d.c) + xb.bandwidth() / 2;
    const y1 = y(d.m - d.sd), y2 = y(d.m + d.sd);
    g.append("line").attr("x1", cx).attr("x2", cx).attr("y1", y1).attr("y2", y2)
      .attr("stroke", "#111").attr("stroke-width", 1.5);
    [y1, y2].forEach(yy => g.append("line").attr("x1", cx - cap).attr("x2", cx + cap)
      .attr("y1", yy).attr("y2", yy).attr("stroke", "#111").attr("stroke-width", 1.5));
    if (d.sig) {
      g.append("text").attr("x", cx).attr("y", BAR.top + 8.5)
        .attr("text-anchor", "middle").attr("font-family", SANS).attr("font-size", 25)
        .attr("fill", "#1a1a1a").text("*");
    }
    g.append("text").attr("x", cx).attr("y", 842)
      .attr("text-anchor", "middle").attr("font-family", SANS).attr("font-size", 15.5)
      .attr("fill", INK).text(d.c);
  });

  yLabel(p.col, (BAR.top + BAR.bottom) / 2, p.ylab);
});
[["(i)", 11.7], ["(j)", 345], ["(k)", 683.3], ["(l)", 1020]].forEach(([t, x]) => panelLetter(t, x, 586));
</script>
</body>
</html>
